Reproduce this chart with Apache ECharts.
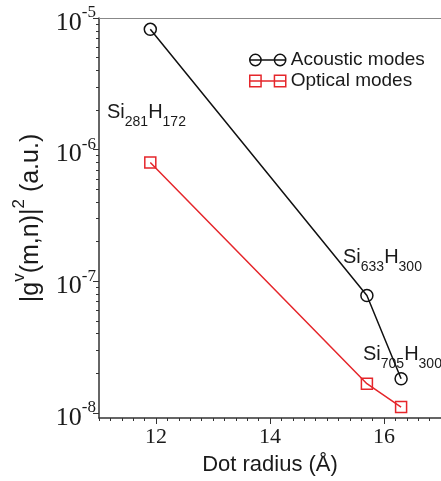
<!DOCTYPE html>
<html>
<head>
<meta charset="utf-8">
<script src="https://cdn.jsdelivr.net/npm/echarts@6/dist/echarts.min.js"></script>
<style>
  html, body { margin: 0; padding: 0; background: #fff; }
  #chart { width: 441px; height: 481px; }
</style>
</head>
<body>
<div id="chart"></div>
<script>
  // 数据
  const radius = [11.9, 15.7, 16.3]
  const acoustic = [8.2e-6, 7.8e-8, 1.82e-8]
  const optical = [8.0e-7, 1.67e-8, 1.11e-8]
  const dotNames = [['281', '172'], ['633', '300'], ['705', '300']]

  // 刻度
  const xMajor = [12, 14, 16]
  const yMajor = [-8, -7, -6, -5]   // log10 of the tick values
  const xMin = 11, xMax = 17
  const yMin = -8.038, yMax = -5

  const xMinor = []
  for (let i = xMin * 5; i <= xMax * 5; i++) {
    if (i % 10 !== 0) xMinor.push(i / 5)
  }
  const yMinor = []
  for (let n = -9; n <= -6; n++) {
    for (let k = 2; k <= 9; k++) {
      const v = n + Math.log10(k)
      if (v >= yMin && v <= yMax) yMinor.push(v)
    }
  }

  const sans = 'Liberation Sans'
  const serif = 'Liberation Serif'
  const ink = '#1a1a1a'
  const red = '#e5262b'

  // rich text: token "height" places the glyphs, "lineHeight" sizes the line
  const supRich = {
    m: { fontFamily: sans, fontSize: 25, height: 16, lineHeight: 28, verticalAlign: 'bottom', color: ink },
    s: { fontFamily: sans, fontSize: 17, height: 16, lineHeight: 28, verticalAlign: 'top', color: ink }
  }
  const subRich = {
    b: { fontFamily: sans, fontSize: 20, height: 20, lineHeight: 27, verticalAlign: 'top', fill: ink },
    u: { fontFamily: sans, fontSize: 14, height: 14, lineHeight: 27, verticalAlign: 'bottom', fill: ink }
  }
  const labelPos = [[107, 102], [343, 247], [363, 344]]

  let chart = echarts.init(document.getElementById('chart'))
  chart.setOption({
    animation: false,
    grid: { left: 99, right: 0, top: 18, bottom: 63, outerBoundsMode: 'none' },
    legend: {
      orient: 'vertical',
      left: 244,
      top: 45,
      itemWidth: 36,
      itemHeight: 12,
      itemGap: 1,
      textStyle: { fontFamily: sans, fontSize: 19, lineHeight: 20, color: ink },
      data: [{
        name: 'Acoustic modes',
        icon: 'path://M0.5,6a5.5,5.5 0 1,0 11,0a5.5,5.5 0 1,0 -11,0M24.5,6a5.5,5.5 0 1,0 11,0a5.5,5.5 0 1,0 -11,0M0.5,6L35.5,6',
        itemStyle: { color: 'rgba(0,0,0,0)', borderColor: '#111', borderWidth: 1.5 }
      }, {
        name: 'Optical modes',
        icon: 'path://M0.5,0.5h11v11h-11zM24.5,0.5h11v11h-11zM0.5,6L35.5,6',
        itemStyle: { color: 'rgba(0,0,0,0)', borderColor: red, borderWidth: 1.5 }
      }]
    },
    xAxis: [{
      type: 'value', min: xMin, max: xMax, position: 'bottom',
      axisLine: { onZero: false, lineStyle: { color: '#333', width: 1.5 } },
      axisTick: { customValues: xMajor, length: 6, lineStyle: { color: '#333' } },
      axisLabel: { customValues: xMajor, fontFamily: serif, fontSize: 22, color: ink, margin: 8 },
      splitLine: { show: false },
      name: 'Dot radius (Å)',
      nameLocation: 'middle',
      nameGap: 36,
      nameTextStyle: { fontFamily: sans, fontSize: 22, color: ink }
    }, {
      // 小刻度
      type: 'value', min: xMin, max: xMax, position: 'bottom',
      axisLine: { show: false },
      axisTick: { customValues: xMinor, length: 3, lineStyle: { color: '#333' } },
      axisLabel: { show: false },
      splitLine: { show: false }
    }, {
      type: 'value', min: xMin, max: xMax, position: 'top',
      axisLine: { onZero: false, lineStyle: { color: '#888', width: 1 } },
      axisTick: { show: false },
      axisLabel: { show: false },
      splitLine: { show: false }
    }],
    yAxis: [{
      type: 'value', min: yMin, max: yMax, position: 'left',
      axisLine: { onZero: false, lineStyle: { color: '#333', width: 1.5 } },
      axisTick: { customValues: yMajor, length: 6, lineStyle: { color: '#333' } },
      axisLabel: {
        customValues: yMajor,
        margin: 3,
        formatter: v => '{b|10}{s|' + v + '}',
        rich: {
          b: { fontFamily: serif, fontSize: 26, height: 16, lineHeight: 26, verticalAlign: 'bottom', color: ink },
          s: { fontFamily: serif, fontSize: 17, height: 16, lineHeight: 26, verticalAlign: 'top', color: ink }
        }
      },
      splitLine: { show: false },
      name: '{m||g}{s|v}{m|(m,n)|}{s|2}{m| (a.u.)}',
      nameLocation: 'middle',
      nameGap: 60,
      nameRotate: 90,
      nameMoveOverlap: false,
      nameTextStyle: { rich: supRich }
    }, {
      type: 'value', min: yMin, max: yMax, position: 'left',
      axisLine: { show: false },
      axisTick: { customValues: yMinor, length: 3, lineStyle: { color: '#333' } },
      axisLabel: { show: false },
      splitLine: { show: false }
    }],
    graphic: dotNames.map((d, i) => ({
      type: 'text',
      left: labelPos[i][0],
      top: labelPos[i][1],
      style: { text: '{b|Si}{u|' + d[0] + '}{b|H}{u|' + d[1] + '}', rich: subRich }
    })),
    series: [{
      name: 'Acoustic modes',
      type: 'line',
      data: radius.map((r, i) => [r, Math.log10(acoustic[i])]),
      symbol: 'circle',
      symbolSize: 12,
      lineStyle: { color: '#111', width: 1.5 },
      itemStyle: { color: 'rgba(0,0,0,0)', borderColor: '#111', borderWidth: 1.5 }
    }, {
      name: 'Optical modes',
      type: 'line',
      data: radius.map((r, i) => [r, Math.log10(optical[i])]),
      symbol: 'rect',
      symbolSize: 11,
      lineStyle: { color: red, width: 1.5 },
      itemStyle: { color: 'rgba(0,0,0,0)', borderColor: red, borderWidth: 1.5 }
    }]
  })
</script>
</body>
</html>
